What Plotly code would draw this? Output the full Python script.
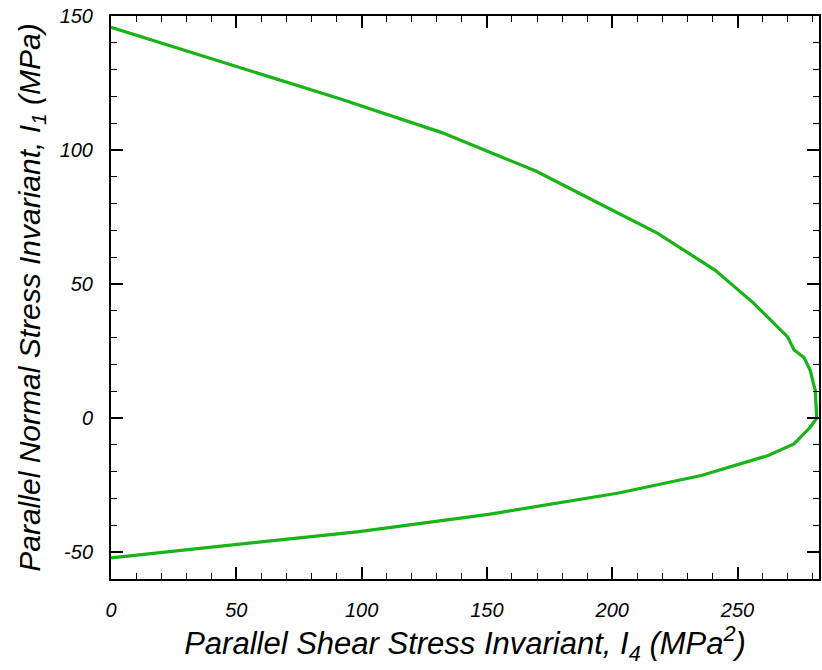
import plotly.graph_objects as go

# Failure envelope: parallel shear stress invariant I4 vs parallel normal stress invariant I1
i4_values = [0, 51, 91, 132, 169.5, 196, 218, 241, 256.5, 270, 272.5, 276.5, 279, 281, 281.6,
             279, 272.5, 262, 235.5, 202, 150.6, 99, 50, 0]
i1_values = [145.8, 131, 119.2, 106.5, 92.2, 79.5, 69, 55.2, 42.8, 30.3, 25.5, 22.6, 17.8, 10.3, 0,
             -3.4, -9.6, -14.0, -21.4, -28.0, -35.9, -42.3, -47.1, -52.1]

x_ticks = [0, 50, 100, 150, 200, 250]
y_ticks = [-50, 0, 50, 100, 150]

FONT = "Liberation Sans, Arial, Helvetica, sans-serif"

fig = go.Figure()
fig.add_trace(go.Scatter(
    x=i4_values, y=i1_values, mode="lines",
    line=dict(color="#17b317", width=3.2),
    showlegend=False, hoverinfo="skip",
))

axis_common = dict(
    showgrid=False, zeroline=False,
    showline=True, linecolor="black", linewidth=2, mirror="allticks",
    ticks="inside", ticklen=12, tickwidth=1.5, tickcolor="black",
    tickfont=dict(family=FONT, size=20, color="black", style="italic"),
)

fig.update_xaxes(
    range=[0, 282.5], tickvals=x_ticks, ticktext=[str(v) for v in x_ticks],
    minor=dict(dtick=10, tick0=0, ticks="inside", ticklen=6, tickwidth=1.2, tickcolor="black"),
    ticklabelstandoff=12,
    title=dict(text="Parallel Shear Stress Invariant, I<sub>4</sub> (MPa<sup>2</sup>)",
               font=dict(family=FONT, size=31, color="black", style="italic"), standoff=10),
    **axis_common,
)
fig.update_yaxes(
    range=[-60, 150], tickvals=y_ticks, ticktext=[str(v) for v in y_ticks],
    minor=dict(dtick=10, tick0=0, ticks="inside", ticklen=6, tickwidth=1.2, tickcolor="black"),
    ticklabelstandoff=12,
    title=dict(text="Parallel Normal Stress Invariant, I<sub>1</sub> (MPa)",
               font=dict(family=FONT, size=30, color="black", style="italic"), standoff=10),
    **axis_common,
)

fig.update_layout(
    width=822, height=670,
    margin=dict(l=111, r=1, t=16, b=91),
    plot_bgcolor="white", paper_bgcolor="white",
)

fig.write_html("out.html")
